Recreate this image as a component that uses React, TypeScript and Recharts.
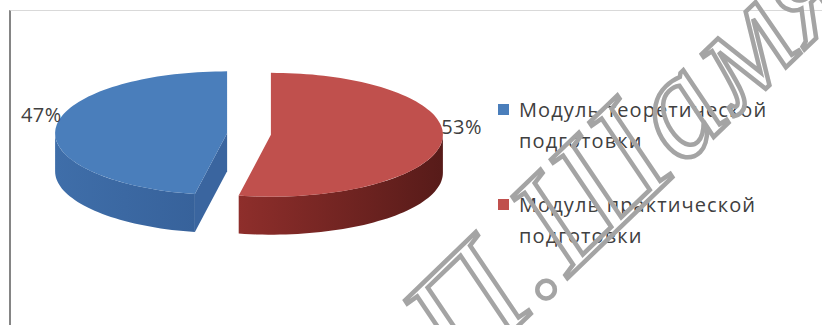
import { PieChart, Pie, Cell, Legend } from "recharts";

const modules = ["Модуль теоретической подготовки", "Модуль практической подготовки"];
const shares = [47, 53];
const topColors = ["#4a7ebb", "#c0504d"];
const wallColors = [
  ["#3f6ea9", "#37629b"],
  ["#8e2e2b", "#571b19"],
];
const cutColors = ["#3a659f", "#7a2523"];
const watermark = "П.Шамякина";

const data = modules.map((name, i) => ({ name, value: shares[i] }));
const total = shares.reduce((a, b) => a + b, 0);
// blue slice starts where red ends, red starts at 12 o'clock going clockwise
const startAngle = 90 - (360 * shares[1]) / total;

const TILT = 0.36;
const DEPTH = 38;
const EXPLODE = 22;
const rad = (d: number) => (d * Math.PI) / 180;

const arcPts = (x0: number, y0: number, r: number, a1: number, a2: number, dz: number) => {
  const n = Math.max(2, Math.ceil(Math.abs(a2 - a1) / 2));
  const pts: number[][] = [];
  for (let i = 0; i <= n; i++) {
    const a = rad(a1 + ((a2 - a1) * i) / n);
    pts.push([x0 + r * Math.cos(a), y0 - r * TILT * Math.sin(a) + dz]);
  }
  return pts;
};

const toPath = (pts: number[][]) =>
  pts.map((p, i) => (i ? "L" : "M") + p[0].toFixed(1) + "," + p[1].toFixed(1)).join(" ") + " Z";

function Slice3D(props: any) {
  const { cx, cy, outerRadius: r, startAngle: sa, endAngle: ea, midAngle, index } = props;
  const x0 = cx + EXPLODE * Math.cos(rad(midAngle));
  const y0 = cy - EXPLODE * TILT * Math.sin(rad(midAngle));
  const lo = Math.min(sa, ea);
  const hi = Math.max(sa, ea);

  // front facing part of the outer wall
  const walls: string[] = [];
  let minX = Infinity;
  let maxX = -Infinity;
  for (let n = -3; n <= 2; n++) {
    const s = Math.max(lo, 360 * n - 180);
    const e = Math.min(hi, 360 * n);
    if (e > s) {
      const top = arcPts(x0, y0, r, s, e, 0);
      const bottom = arcPts(x0, y0, r, e, s, DEPTH);
      top.forEach((p) => {
        minX = Math.min(minX, p[0]);
        maxX = Math.max(maxX, p[0]);
      });
      walls.push(toPath([...top, ...bottom]));
    }
  }

  const cuts: string[] = [];
  [
    [lo, lo - 90],
    [hi, hi + 90],
  ].forEach(([a, normal]) => {
    if (Math.sin(rad(normal)) < 0.02) {
      const px = x0 + r * Math.cos(rad(a));
      const py = y0 - r * TILT * Math.sin(rad(a));
      cuts.push(toPath([[x0, y0], [px, py], [px, py + DEPTH], [x0, y0 + DEPTH]]));
    }
  });

  const gid = "wall" + index;
  return (
    <g>
      <defs>
        <linearGradient id={gid} gradientUnits="userSpaceOnUse" x1={minX} y1={0} x2={maxX} y2={0}>
          <stop offset="0%" stopColor={wallColors[index][0]} />
          <stop offset="100%" stopColor={wallColors[index][1]} />
        </linearGradient>
      </defs>
      {cuts.map((d, i) => (
        <path key={"c" + i} d={d} fill={cutColors[index]} />
      ))}
      {walls.map((d, i) => (
        <path key={"w" + i} d={d} fill={`url(#${gid})`} />
      ))}
      <path d={toPath([[x0, y0], ...arcPts(x0, y0, r, lo, hi, 0)])} fill={topColors[index]} />
    </g>
  );
}

function renderLabel(props: any) {
  const { cx, cy, midAngle, outerRadius, percent } = props;
  const c = Math.cos(rad(midAngle));
  const x = cx + (EXPLODE + outerRadius) * c;
  const y = cy - (EXPLODE + outerRadius) * TILT * Math.sin(rad(midAngle));
  const left = c < 0;
  return (
    <text
      x={left ? x + 6 : x - 1}
      y={left ? y - 5 : y - 7}
      textAnchor={left ? "end" : "start"}
      fill="#404040"
      fontFamily="'Open Sans', sans-serif"
      fontSize={20}
      letterSpacing={0.5}
    >
      {Math.round(percent * 100)}%
    </text>
  );
}

function LegendBox() {
  return (
    <div
      style={{
        fontFamily: "'Open Sans', sans-serif",
        fontSize: 20,
        letterSpacing: 1.1,
        lineHeight: "31px",
        color: "#404040",
        textAlign: "left",
      }}
    >
      {modules.map((name, i) => (
        <div key={name} style={{ display: "flex", marginBottom: 33 }}>
          <span
            style={{
              width: 11,
              height: 11,
              background: topColors[i],
              marginTop: 10,
              marginRight: 10,
              flex: "none",
            }}
          />
          <div style={{ width: 270 }}>{name}</div>
        </div>
      ))}
    </div>
  );
}

export default function App() {
  return (
    <div style={{ position: "relative", width: 822, height: 325, background: "#fff", overflow: "hidden" }}>
      <style>{`body{margin:0}`}</style>
      <div
        style={{
          position: "absolute",
          left: 9,
          top: 10,
          width: 813,
          height: 315,
          borderLeft: "2px solid #858585",
          borderTop: "1px solid #d9d9d9",
        }}
      />
      <PieChart width={822} height={325} margin={{ top: 0, right: 0, bottom: 0, left: 0 }}>
        <Pie
          data={data}
          dataKey="value"
          nameKey="name"
          cx={249}
          cy={134}
          outerRadius={172}
          startAngle={startAngle}
          endAngle={startAngle - 360}
          shape={Slice3D}
          label={renderLabel}
          labelLine={false}
          stroke="none"
          isAnimationActive={false}
        >
          {data.map((d, i) => (
            <Cell key={d.name} fill={topColors[i]} />
          ))}
        </Pie>
        <Legend
          layout="vertical"
          align="center"
          verticalAlign="middle"
          content={LegendBox}
          wrapperStyle={{ left: 498, top: 94, width: 320 }}
        />
      </PieChart>
      <svg width={822} height={325} style={{ position: "absolute", left: 0, top: 0, pointerEvents: "none" }}>
        <text
          transform="translate(461,381) rotate(-44)"
          fontFamily="'Liberation Serif', serif"
          fontStyle="italic"
          fontSize={148}
          letterSpacing={3}
          fill="none"
          stroke="#a4a4a4"
          strokeWidth={4.5}
        >
          {watermark}
        </text>
      </svg>
    </div>
  );
}
